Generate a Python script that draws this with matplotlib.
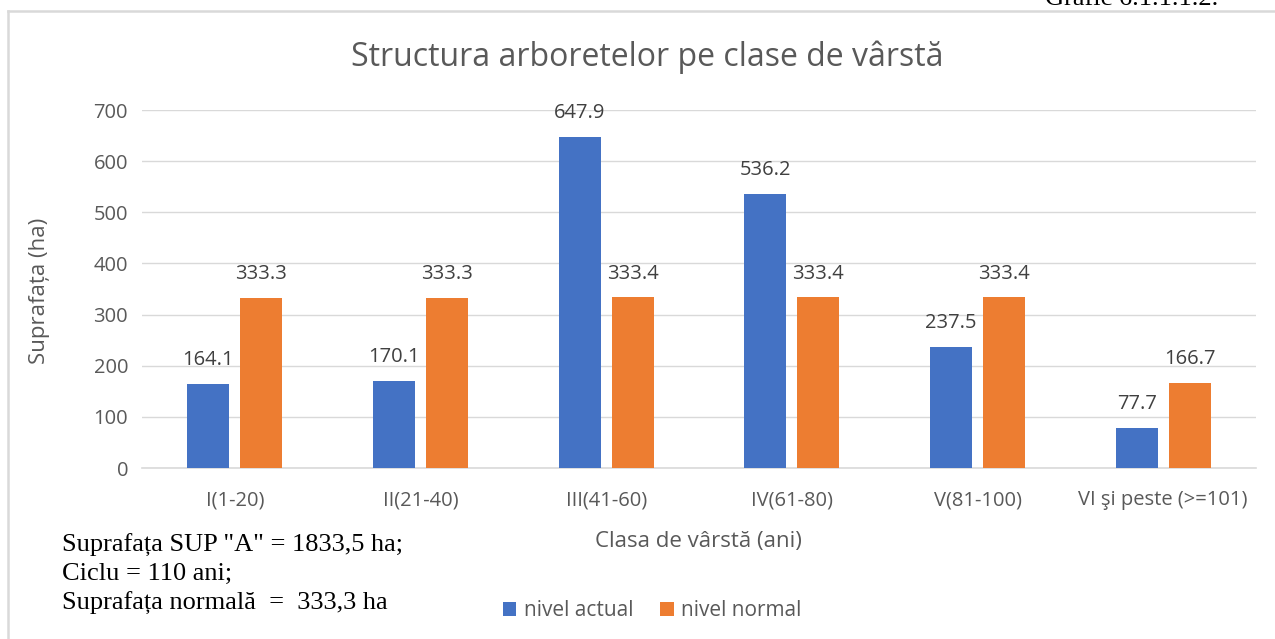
import matplotlib.pyplot as plt
import numpy as np
from matplotlib.lines import Line2D

categories = ["I(1-20)", "II(21-40)", "III(41-60)", "IV(61-80)", "V(81-100)", "VI şi peste (>=101)"]
nivel_actual = [164.1, 170.1, 647.9, 536.2, 237.5, 77.7]
nivel_normal = [333.3, 333.3, 333.4, 333.4, 333.4, 166.7]

BLUE = "#4472C4"
ORANGE = "#ED7D31"
GRAY = "#595959"

plt.rcParams['font.family'] = ['Open Sans', 'DejaVu Sans']

fig = plt.figure(figsize=(12.75, 6.39), dpi=100)
ax = fig.add_axes([142 / 1275, 1 - 468 / 639, (1256 - 142) / 1275, (468 - 110) / 639])

x = np.arange(len(categories))
w = 0.226
off = 0.143
b1 = ax.bar(x - off, nivel_actual, w, color=BLUE, label="nivel actual", zorder=3)
b2 = ax.bar(x + off, nivel_normal, w, color=ORANGE, label="nivel normal", zorder=3)

for bars, vals in ((b1, nivel_actual), (b2, nivel_normal)):
    for r, v in zip(bars, vals):
        ax.annotate(f"{v:.1f}", (r.get_x() + r.get_width() / 2, v), xytext=(0, 10),
                    textcoords="offset points", ha="center", va="bottom",
                    fontsize=14.5, color="#404040")

ax.set_xlim(-0.5, len(categories) - 0.5)
ax.set_ylim(0, 700)
ax.set_yticks(range(0, 701, 100))
ax.set_xticks(x)
ax.set_xticklabels(categories)
ax.tick_params(axis="both", length=0, labelsize=14.5, colors=GRAY, pad=10)
ax.tick_params(axis="x", pad=16)
ax.grid(axis="y", color="#d9d9d9", linewidth=1, zorder=0)
for s in ("top", "left", "right"):
    ax.spines[s].set_visible(False)
ax.spines["bottom"].set_color("#d9d9d9")
ax.spines["bottom"].set_linewidth(1.2)

ax.set_ylabel("Suprafața (ha)", fontsize=16, color=GRAY)
ax.yaxis.set_label_coords(-0.083, 0.495)
fig.text(698 / 1275, 1 - 541 / 639, "Clasa de vârstă (ani)", ha="center", va="center",
         fontsize=16, color=GRAY)
fig.text(647 / 1275, 1 - 57 / 639, "Structura arboretelor pe clase de vârstă", ha="center",
         va="center", fontsize=23, color=GRAY)

fig.legend(handles=[b1, b2], loc="center", bbox_to_anchor=(652 / 1275, 1 - 611 / 639),
           ncol=2, frameon=False, fontsize=15, handlelength=0.65, handleheight=0.65,
           columnspacing=1.3, handletextpad=0.35, labelcolor=GRAY)

notes = ['Suprafața SUP "A" = 1833,5 ha;', 'Ciclu = 110 ani;', 'Suprafața normală  =  333,3 ha']
for i, line in enumerate(notes):
    fig.text(62 / 1275, 1 - (545 + 29 * i) / 639, line, ha="left", va="center",
             fontsize=19, family="Liberation Serif", color="black")

fig.text(1045 / 1275, 1 - 5 / 639, "Grafic 6.1.1.1.2.", ha="left", va="baseline",
         fontsize=19, family="Liberation Serif", color="black")

fig.add_artist(Line2D([8 / 1275, 1], [1 - 11 / 639, 1 - 11 / 639], transform=fig.transFigure,
                      color="#d9d9d9", linewidth=1.8))
fig.add_artist(Line2D([8 / 1275, 8 / 1275], [0, 1 - 11 / 639], transform=fig.transFigure,
                      color="#d9d9d9", linewidth=1.8))

fig.savefig("out.png", dpi=100)
